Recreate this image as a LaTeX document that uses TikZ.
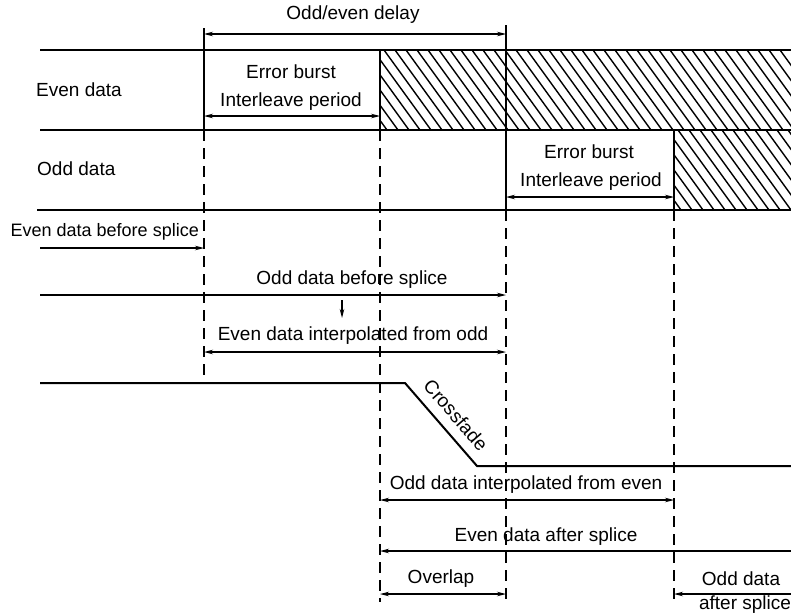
\documentclass[tikz,border=0pt]{standalone}
\usepackage{fontspec}
\setmainfont{Liberation Sans}
\usetikzlibrary{arrows.meta}
\begin{document}
\begin{tikzpicture}[x=1pt,y=-1pt,
  lbl/.style={font=\fontsize{19}{21}\selectfont, inner sep=0pt},
  heavy/.style={line width=2pt},
  edge/.style={line width=1.6pt},
  guide/.style={line width=1.2pt, dash pattern=on 11pt off 7pt},
  hatchline/.style={line width=1.4pt},
  both/.style={line width=1.1pt, {Stealth[length=9pt,width=4.5pt]}-{Stealth[length=9pt,width=4.5pt]}},
  toend/.style={line width=1.1pt, -{Stealth[length=9pt,width=4.5pt]}},
]
\useasboundingbox (0,0) rectangle (791,613);

% hatched regions (data lost after the splice)
\begin{scope}
  \clip (380,50) rectangle (791,130);
  \foreach \x in {318,329,...,800} \draw[hatchline] (\x,50) -- ++(58,80);
\end{scope}
\begin{scope}
  \clip (674,130) rectangle (791,210);
  \foreach \x in {612,623,...,800} \draw[hatchline] (\x,130) -- ++(58,80);
\end{scope}

% track boundaries
\draw[heavy] (40,50) -- (791,50);
\draw[heavy] (40,130) -- (791,130);
\draw[heavy] (37,210) -- (791,210);

% solid verticals
\draw[edge] (204,28) -- (204,130);
\draw[edge] (380,50) -- (380,130);
\draw[edge] (506,25) -- (506,210);
\draw[edge] (674,130) -- (674,210);

% dashed guides
\draw[guide] (204,130) -- (204,378);
\draw[guide] (380,130) -- (380,602);
\draw[guide] (506,210) -- (506,602);
\draw[guide] (674,210) -- (674,600);

% crossfade gain curve
\coordinate (cf0) at (40,383);
\coordinate (cf1) at (405,383);
\coordinate (cf2) at (477,466);
\coordinate (cf3) at (791,466);
\draw[heavy] (cf0) -- (cf1) -- (cf2) -- (cf3);
\node[lbl, rotate=-49] (cfl) at (456,415) {Crossfade};

% labels
\node[lbl] (delay) at (353,15) {Odd/even delay};
\node[lbl, anchor=west] (even) at (36,90) {Even data};
\node[lbl, anchor=west] (odd) at (37,169) {Odd data};
\node[lbl] (eb1) at (291,72) {Error burst};
\node[lbl] (ip1) at (291,102) {Interleave period};
\node[lbl] (eb2) at (589,152) {Error burst};
\node[lbl] (ip2) at (591,182) {Interleave period};
\node[lbl, font=\fontsize{18}{20}\selectfont, anchor=east] (ebs) at (199,232) {Even data before splice};
\node[lbl] (obs) at (352,280) {Odd data before splice};
\node[lbl] (eio) at (353,336) {Even data interpolated from odd};
\node[lbl] (oie) at (526,485) {Odd data interpolated from even};
\node[lbl] (eas) at (546,537) {Even data after splice};
\node[lbl] (ovl) at (441,579) {Overlap};
\node[lbl] (ods) at (741,579) {Odd data};
\node[lbl] (ods2) at (745,605) {after splice};

% dimension arrows
\coordinate (a1) at (204,34);   \coordinate (a2) at (506,34);
\coordinate (b1) at (204,116);  \coordinate (b2) at (380,116);
\coordinate (c1) at (506,197);  \coordinate (c2) at (674,197);
\coordinate (d1) at (40,248);   \coordinate (d2) at (204,248);
\coordinate (e1) at (40,295);   \coordinate (e2) at (506,295);
\coordinate (f1) at (342,300);  \coordinate (f2) at (342,318);
\coordinate (g1) at (204,352);  \coordinate (g2) at (506,352);
\coordinate (h1) at (380,500);  \coordinate (h2) at (674,500);
\coordinate (i1) at (791,551);  \coordinate (i2) at (380,551);
\coordinate (j1) at (380,594);  \coordinate (j2) at (506,594);
\coordinate (k1) at (791,594);  \coordinate (k2) at (674,594);

\draw[both] (a1) -- (a2);
\draw[both] (b1) -- (b2);
\draw[both] (c1) -- (c2);
\draw[toend] (d1) -- (d2);
\draw[toend] (e1) -- (e2);
\draw[toend] (f1) -- (f2);
\draw[both] (g1) -- (g2);
\draw[both] (h1) -- (h2);
\draw[toend] (i1) -- (i2);
\draw[both] (j1) -- (j2);
\draw[toend] (k1) -- (k2);
\end{tikzpicture}
\end{document}
